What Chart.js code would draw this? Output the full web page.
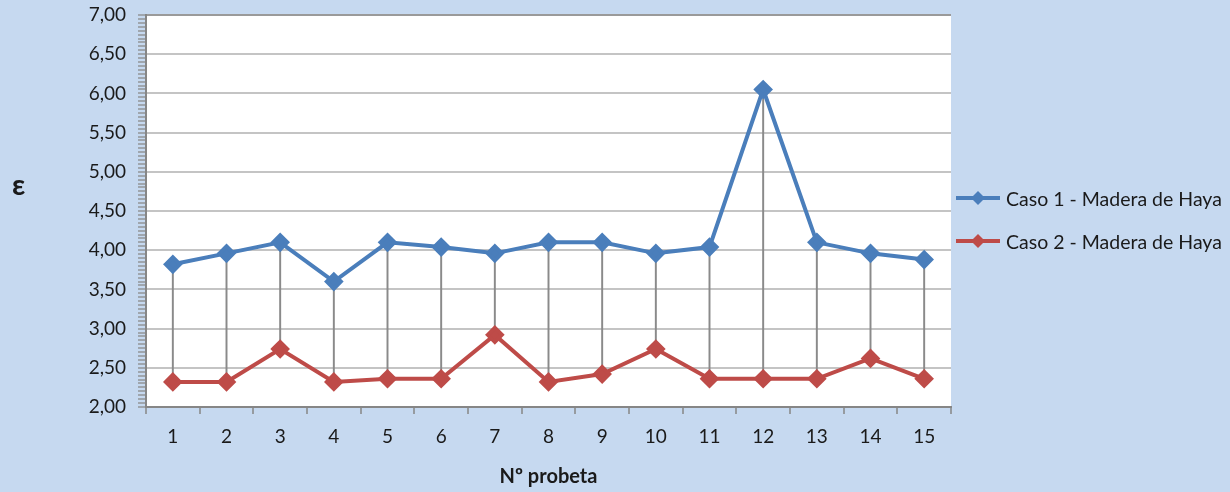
<!DOCTYPE html>
<html>
<head>
<meta charset="utf-8">
<script src="https://cdn.jsdelivr.net/npm/chart.js@4"></script>
<style>
  body { margin: 0; background: #c6d9f0; }
  #wrap { position: relative; width: 1230px; height: 492px; }
  #eps { position: absolute; left: 12px; top: 166px; font: bold 29px Lato, sans-serif; color: #1a1a1a; }
  .leg { position: absolute; left: 955px; height: 24px; display: flex; align-items: center;
         font: 19.5px Lato, sans-serif; color: #1a1a1a; white-space: nowrap; }
  .leg svg { margin-right: 5px; }
</style>
</head>
<body>
<div id="wrap">
  <canvas id="grafico" width="1230" height="492"></canvas>
  <div id="eps">ε</div>
  <div class="leg" style="top:186px">
    <svg width="46" height="16"><line x1="1" y1="8" x2="45" y2="8" stroke="#4a7ebb" stroke-width="4"/><polygon points="23,1 30,8 23,15 16,8" fill="#4a7ebb"/></svg>
    Caso 1 - Madera de Haya
  </div>
  <div class="leg" style="top:229px">
    <svg width="46" height="16"><line x1="1" y1="8" x2="45" y2="8" stroke="#be4b48" stroke-width="4"/><polygon points="23,1 30,8 23,15 16,8" fill="#be4b48"/></svg>
    Caso 2 - Madera de Haya
  </div>
</div>
<script>
// donnees
const probetas = ['1','2','3','4','5','6','7','8','9','10','11','12','13','14','15'];
const caso1 = [3.82, 3.96, 4.10, 3.60, 4.10, 4.04, 3.96, 4.10, 4.10, 3.96, 4.04, 6.05, 4.10, 3.96, 3.88];
const caso2 = [2.32, 2.32, 2.74, 2.32, 2.36, 2.36, 2.92, 2.32, 2.42, 2.74, 2.36, 2.36, 2.36, 2.62, 2.36];
const yMin = 2, yMax = 7, yStepMinor = 0.05;

const esMayor = (v) => Math.abs(v * 2 - Math.round(v * 2)) < 1e-6;
const fuente = { family: 'Lato, sans-serif', size: 19 };

// fond blanc de la zone de tracé
const fondo = {
  id: 'fondo',
  beforeDraw(chart) {
    const a = chart.chartArea, ctx = chart.ctx;
    ctx.save();
    ctx.fillStyle = '#ffffff';
    ctx.fillRect(a.left, a.top, a.right - a.left, a.bottom - a.top);
    ctx.restore();
  }
};

new Chart('grafico', {
  data: {
    labels: probetas,
    datasets: [
      {
        type: 'line', label: 'Caso 1 - Madera de Haya', data: caso1, order: 1,
        borderColor: '#4a7ebb', backgroundColor: '#4a7ebb', borderWidth: 4,
        pointStyle: 'rectRot', pointRadius: 7, tension: 0
      },
      {
        type: 'line', label: 'Caso 2 - Madera de Haya', data: caso2, order: 2,
        borderColor: '#be4b48', backgroundColor: '#be4b48', borderWidth: 4,
        pointStyle: 'rectRot', pointRadius: 7, tension: 0
      },
      {
        // lignes haut-bas entre les deux séries
        type: 'bar', label: 'hl', order: 3,
        data: caso1.map((v, i) => [caso2[i], v]),
        backgroundColor: '#8a8a8a', barThickness: 1.3, grouped: false
      }
    ]
  },
  options: {
    responsive: false,
    animation: false,
    layout: { padding: { top: 15, right: 279, bottom: 0, left: 0 } },
    plugins: { legend: { display: false }, tooltip: { enabled: false } },
    scales: {
      x: {
        type: 'category',
        offset: true,
        afterFit: (s) => { s.height = 85; },
        grid: {
          offset: true,
          drawOnChartArea: true,
          color: (c) => c.index === probetas.length ? '#9a9a9a' : 'rgba(0,0,0,0)',
          lineWidth: 2,
          tickColor: '#868686',
          tickLength: 7,
          tickWidth: 1.5
        },
        border: { color: '#868686', width: 2 },
        ticks: { font: fuente, color: '#1a1a1a', padding: 11, maxRotation: 0 },
        title: {
          display: true, text: 'Nº probeta', color: '#1a1a1a',
          font: { family: 'Lato, sans-serif', size: 20, weight: 'bold' },
          padding: { top: 0, bottom: 3 }
        }
      },
      y: {
        min: yMin, max: yMax,
        afterFit: (s) => { s.width = 146; s.paddingTop = 0; s.paddingBottom = 0; },
        grid: {
          color: (c) => {
            if (!c.tick) return 'rgba(0,0,0,0)';
            if (c.tick.value === yMax) return '#9a9a9a';
            return esMayor(c.tick.value) ? '#c4c4c4' : 'rgba(0,0,0,0)';
          },
          lineWidth: 2,
          tickColor: '#8a8a8a',
          tickLength: 8,
          tickWidth: 1.3
        },
        border: { color: '#868686', width: 2 },
        ticks: {
          stepSize: yStepMinor,
          autoSkip: false,
          maxTicksLimit: 200,
          padding: 12,
          font: fuente,
          color: '#1a1a1a',
          callback: (v) => esMayor(v) ? v.toFixed(2).replace('.', ',') : ''
        }
      }
    }
  },
  plugins: [fondo]
});
</script>
</body>
</html>
